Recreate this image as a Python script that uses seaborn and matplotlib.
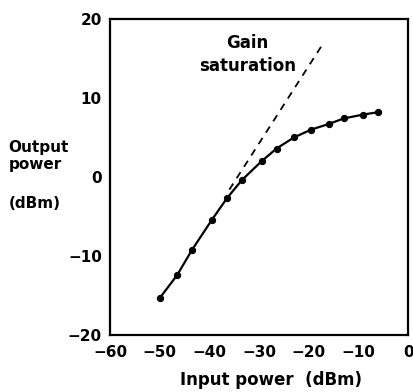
import numpy as np
import pandas as pd
import matplotlib
matplotlib.use("Agg")
import matplotlib.pyplot as plt
import seaborn as sns

# measured amplifier curve
input_power = [-50, -46.5, -43.5, -39.5, -36.5, -33.5, -29.5, -26.5, -23, -19.5, -16, -13, -9, -6]
output_power = [-15.3, -12.4, -9.2, -5.4, -2.7, -0.4, 2.0, 3.6, 5.0, 6.0, 6.7, 7.4, 7.9, 8.2]

# small-signal (linear gain) reference line
linear_in = [-36, -17]
linear_out = [-1.6, 17.0]

x_ticks = [-60, -50, -40, -30, -20, -10, 0]
y_ticks = [-20, -10, 0, 10, 20]

df = pd.DataFrame({"Input power": input_power, "Output power": output_power})

sns.set_style("white")
plt.rcParams['font.family'] = ['DejaVu Sans']
plt.rcParams['text.color'] = 'black'
plt.rcParams['axes.labelcolor'] = 'black'
plt.rcParams['xtick.color'] = 'black'
plt.rcParams['ytick.color'] = 'black'

fig = plt.figure(figsize=(4.14, 3.92), dpi=100)
ax = fig.add_axes([0.266, 0.145, 0.72, 0.807])

sns.lineplot(data=df, x="Input power", y="Output power", ax=ax, color="black",
             linewidth=1.6, marker="o", markersize=4.5, markeredgecolor="black")
ax.plot(linear_in, linear_out, color="black", linestyle=(0, (4, 3.5)), linewidth=1.3)

ax.text(-32.3, 16.9, "Gain", ha="center", va="center", fontsize=12, fontweight="bold")
ax.text(-32.3, 14.0, "saturation", ha="center", va="center", fontsize=12, fontweight="bold")

ax.set_xlim(-60, 0)
ax.set_ylim(-20, 20)
ax.set_xticks(x_ticks)
ax.set_yticks(y_ticks)
ax.set_xticklabels(["\u221260", "\u221250", "\u221240", "\u221230", "\u221220", "\u221210", "0"],
                   fontsize=11, fontweight="bold")
ax.set_yticklabels(["\u221220", "\u221210", "0", "10", "20"], fontsize=11, fontweight="bold")
ax.tick_params(axis="both", direction="in", length=5, width=1.5)
ax.tick_params(axis="x", pad=7)
ax.tick_params(axis="y", pad=6)

for s in ax.spines.values():
    s.set_color("black")
    s.set_linewidth(1.6)

ax.set_xlabel("Input power  (dBm)", fontsize=12, fontweight="bold")
ax.xaxis.set_label_coords(0.54, -0.112)
ax.set_ylabel("")
fig.text(0.02, 0.603, "Output\npower", fontsize=11, fontweight="bold", ha="left", va="center",
         linespacing=1.15)
fig.text(0.02, 0.482, "(dBm)", fontsize=11, fontweight="bold", ha="left", va="center")

fig.savefig("out.png", dpi=100)
